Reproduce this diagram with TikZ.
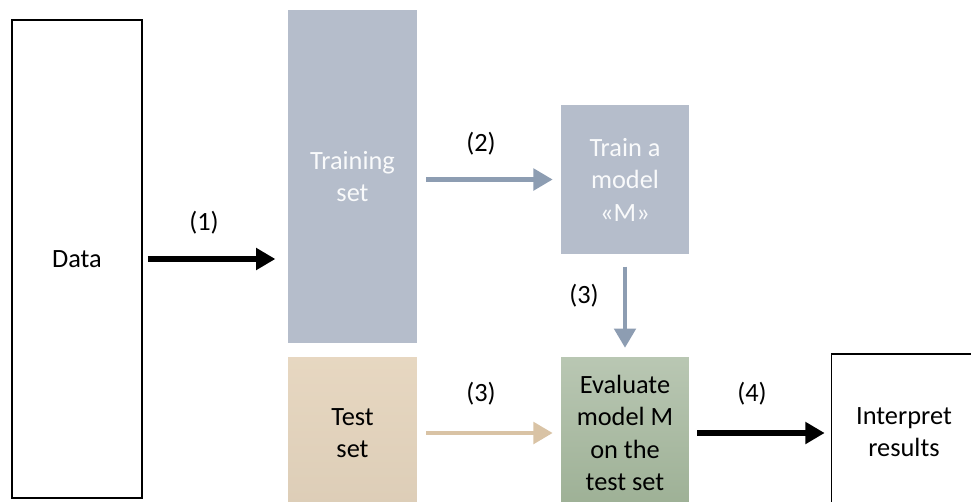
\documentclass[tikz,border=0pt]{standalone}
\usepackage{fontspec}
\setmainfont{Carlito}
\usetikzlibrary{arrows.meta}

\definecolor{trainblue}{HTML}{B5BDCB}
\definecolor{arrowblue}{HTML}{8D9DB2}
\definecolor{testbeige}{HTML}{E6D6BF}
\definecolor{arrowbeige}{HTML}{D9C3A5}
\definecolor{evaltop}{HTML}{B9C7B3}
\definecolor{evalbot}{HTML}{9DB095}

\tikzset{
  box/.style={rectangle, inner sep=0pt, align=center,
    font=\fontsize{15}{18.5}\selectfont},
  wbox/.style={box, draw=black, line width=0.8pt, fill=white},
  step arrow/.style={line width=3.4pt,
    -{Triangle[length=11pt, width=12pt]}},
  num/.style={font=\fontsize{15}{17}\selectfont}
}

\begin{document}
\begin{tikzpicture}[x=0.02cm, y=-0.02cm]

    % Рамка рисунка
    \useasboundingbox (0,0) rectangle (971,501);

    % Исходные данные
    \node[wbox, minimum width=2.6cm, minimum height=9.56cm] (data) at (77,259) {Data};

    % Обучающая и тестовая выборки
    \node[box, fill=trainblue, text=white!92!trainblue, minimum width=2.58cm, minimum height=6.66cm] (train) at (352.5,176.5) {Training\\set};
    \node[box, top color=testbeige!97!white, bottom color=testbeige!96!black, minimum width=2.58cm, minimum height=3.04cm] (test) at (352.5,433) {Test\\set};

    % Модель и проверка
    \node[box, fill=trainblue, text=white!92!trainblue, minimum width=2.56cm, minimum height=2.98cm] (model) at (625,179.5) {Train a\\model\\«M»};
    \node[box, top color=evaltop, bottom color=evalbot, minimum width=2.56cm, minimum height=3.04cm] (eval) at (625,433) {Evaluate\\model M\\on the\\test set};

    % Итог
    \node[wbox, minimum width=2.9cm, minimum height=3.12cm] (interp) at (904,432) {Interpret\\results};

    % Стрелки
    \draw[step arrow, shorten <=3pt, shorten >=7pt] (data.east) -- (data.east -| train.west);
    \draw[step arrow, arrowblue, line width=2.8pt, shorten <=5pt, shorten >=4.5pt] (train.east |- model.west) -- (model.west);
    \draw[step arrow, arrowblue, line width=2.8pt, shorten <=7pt, shorten >=5pt] (model.south) -- (eval.north);
    \draw[step arrow, arrowbeige, line width=2.8pt, shorten <=5pt, shorten >=4.5pt] (test.east) -- (eval.west);
    \draw[step arrow, shorten <=4.5pt, shorten >=3.5pt] (eval.east) -- (eval.east -| interp.west);

    % Номера шагов
    \node[num] (n1) at (204,223) {(1)};
    \node[num] (n2) at (481,144) {(2)};
    \node[num] (n3a) at (584,296) {(3)};
    \node[num] (n3b) at (481,394) {(3)};
    \node[num] (n4) at (752,394) {(4)};

\end{tikzpicture}
\end{document}
